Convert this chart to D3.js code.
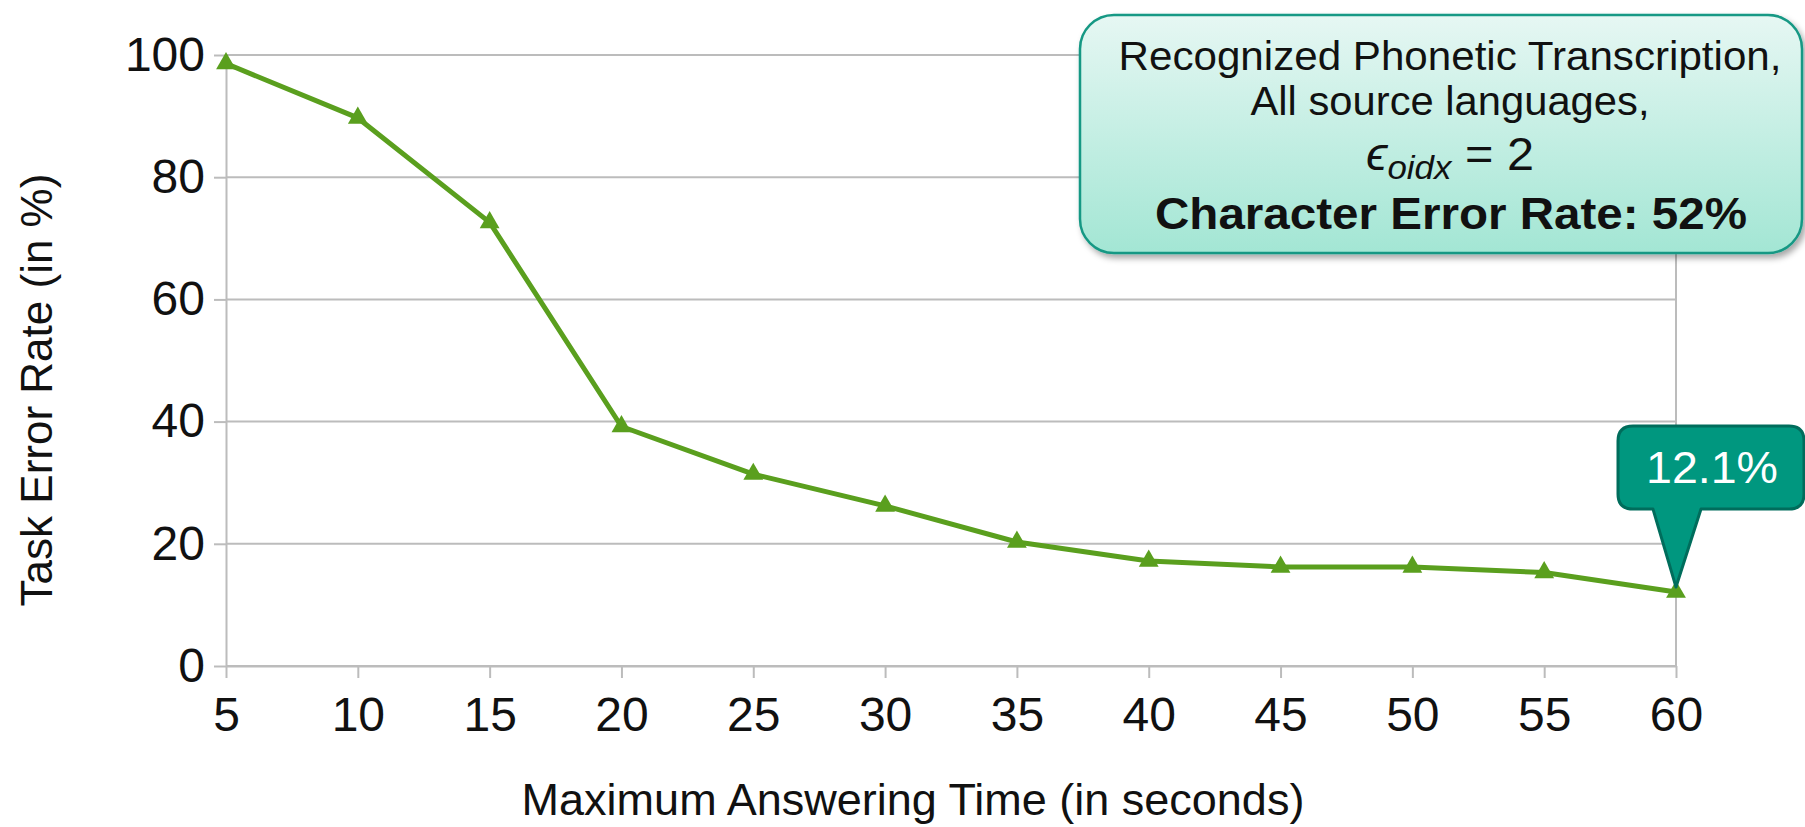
<!DOCTYPE html>
<html>
<head>
<meta charset="utf-8">
<script src="https://cdn.jsdelivr.net/npm/d3@7"></script>
<style>
  html, body { margin: 0; padding: 0; background: #ffffff; }
  svg { display: block; }
  text { font-family: "Liberation Sans", Arial, sans-serif; }
</style>
</head>
<body>
<svg id="chart" width="1805" height="827"></svg>
<script>
// Maximum answering time (s) and the resulting task error rate (%)
const answerTimes = [5, 10, 15, 20, 25, 30, 35, 40, 45, 50, 55, 60];
const taskErrorRates = [98.6, 89.7, 72.6, 39.2, 31.4, 26.2, 20.3, 17.2, 16.2, 16.2, 15.3, 12.1];
const yTickValues = [0, 20, 40, 60, 80, 100];
const xTickValues = answerTimes;

const xTitle = "Maximum Answering Time (in seconds)";
const yTitle = "Task Error Rate (in %)";
const infoLines = ["Recognized Phonetic Transcription,", "All source languages,"];
const cerLine = "Character Error Rate: 52%";

const svg = d3.select("#chart");
const W = 1805, H = 827;
svg.append("rect").attr("width", W).attr("height", H).attr("fill", "#ffffff");

const x = d3.scaleLinear().domain([5, 60]).range([226, 1676]);
const y = d3.scaleLinear().domain([0, 100]).range([666, 55]);

const gridColor = "#bcbcbc";
const lineColor = "#5a9f1e";

// horizontal gridlines
svg.append("g")
  .selectAll("line")
  .data(yTickValues)
  .join("line")
  .attr("x1", x(5)).attr("x2", x(60))
  .attr("y1", d => y(d)).attr("y2", d => y(d))
  .attr("stroke", gridColor).attr("stroke-width", 2);

// right-hand frame line
svg.append("line")
  .attr("x1", x(60)).attr("x2", x(60))
  .attr("y1", y(100)).attr("y2", y(0))
  .attr("stroke", gridColor).attr("stroke-width", 2);

// y axis
const yAxis = svg.append("g")
  .attr("transform", `translate(${x(5)},0)`)
  .call(d3.axisLeft(y).tickValues(yTickValues).tickSize(12).tickSizeOuter(0).tickPadding(9));
yAxis.select(".domain").attr("stroke", gridColor).attr("stroke-width", 2);
yAxis.selectAll(".tick line").attr("stroke", gridColor).attr("stroke-width", 2);
yAxis.selectAll(".tick text")
  .attr("fill", "#111").attr("font-size", 48)
  .attr("font-family", "'Liberation Sans', Arial, sans-serif");

// x axis
const xAxis = svg.append("g")
  .attr("transform", `translate(0,${y(0)})`)
  .call(d3.axisBottom(x).tickValues(xTickValues).tickFormat(d3.format("d")).tickSize(12).tickSizeOuter(0).tickPadding(19));
xAxis.select(".domain").attr("stroke", gridColor).attr("stroke-width", 2);
xAxis.selectAll(".tick line").attr("stroke", gridColor).attr("stroke-width", 2);
xAxis.selectAll(".tick text")
  .attr("fill", "#111").attr("font-size", 48)
  .attr("font-family", "'Liberation Sans', Arial, sans-serif");

// axis titles
svg.append("text")
  .attr("x", 913).attr("y", 815)
  .attr("text-anchor", "middle")
  .attr("font-size", 45).attr("fill", "#111")
  .text(xTitle);

svg.append("text")
  .attr("transform", "translate(52,390) rotate(-90)")
  .attr("text-anchor", "middle")
  .attr("font-size", 44).attr("fill", "#111")
  .text(yTitle);

// series line and markers
const pts = answerTimes.map((t, i) => [t, taskErrorRates[i]]);
svg.append("path")
  .datum(pts)
  .attr("fill", "none")
  .attr("stroke", lineColor)
  .attr("stroke-width", 5)
  .attr("stroke-linejoin", "round")
  .attr("d", d3.line().x(d => x(d[0])).y(d => y(d[1])));

svg.append("g")
  .selectAll("path")
  .data(pts)
  .join("path")
  .attr("transform", d => `translate(${x(d[0])},${y(d[1])})`)
  .attr("d", d3.symbol().type(d3.symbolTriangle).size(170))
  .attr("fill", lineColor);

// value callout for the last point
const last = pts[pts.length - 1];
const tipX = x(last[0]), tipY = y(last[1]) - 5;
const bx0 = tipX - 58, bx1 = tipX + 128, by0 = tipY - 161, by1 = tipY - 78, r = 15;
const pl = tipX - 23, pr = tipX + 25;
const calloutPath = [
  `M${bx0 + r},${by0}`,
  `L${bx1 - r},${by0}`, `Q${bx1},${by0} ${bx1},${by0 + r}`,
  `L${bx1},${by1 - r}`, `Q${bx1},${by1} ${bx1 - r},${by1}`,
  `L${pr},${by1}`, `L${tipX},${tipY}`, `L${pl},${by1}`,
  `L${bx0 + r},${by1}`, `Q${bx0},${by1} ${bx0},${by1 - r}`,
  `L${bx0},${by0 + r}`, `Q${bx0},${by0} ${bx0 + r},${by0}`, "Z"
].join(" ");
svg.append("path")
  .attr("d", calloutPath)
  .attr("fill", "#00977f")
  .attr("stroke", "#006d5c")
  .attr("stroke-width", 3)
  .attr("stroke-linejoin", "round");
svg.append("text")
  .attr("x", (bx0 + bx1) / 2 + 1).attr("y", by0 + 57)
  .attr("text-anchor", "middle")
  .attr("font-size", 44).attr("fill", "#ffffff")
  .attr("textLength", 132).attr("lengthAdjust", "spacingAndGlyphs")
  .text(`${last[1]}%`);

// info box
const defs = svg.append("defs");
const grad = defs.append("linearGradient").attr("id", "boxFill")
  .attr("x1", 0).attr("y1", 0).attr("x2", 0).attr("y2", 1);
grad.append("stop").attr("offset", "0%").attr("stop-color", "#e6f7f3");
grad.append("stop").attr("offset", "100%").attr("stop-color", "#a3e6d4");
const shadow = defs.append("filter").attr("id", "boxShadow")
  .attr("x", "-10%").attr("y", "-10%").attr("width", "130%").attr("height", "140%");
shadow.append("feDropShadow")
  .attr("dx", 3).attr("dy", 4).attr("stdDeviation", 3)
  .attr("flood-color", "#000").attr("flood-opacity", 0.35);

svg.append("rect")
  .attr("x", 1080).attr("y", 15).attr("width", 722).attr("height", 238)
  .attr("rx", 34).attr("ry", 34)
  .attr("fill", "url(#boxFill)")
  .attr("stroke", "#169884").attr("stroke-width", 2.5)
  .attr("filter", "url(#boxShadow)");

const cx = 1450;
svg.append("text")
  .attr("x", cx).attr("y", 70)
  .attr("text-anchor", "middle").attr("font-size", 41).attr("fill", "#111")
  .attr("textLength", 663).attr("lengthAdjust", "spacingAndGlyphs")
  .text(infoLines[0]);
svg.append("text")
  .attr("x", cx).attr("y", 115)
  .attr("text-anchor", "middle").attr("font-size", 41).attr("fill", "#111")
  .attr("textLength", 399).attr("lengthAdjust", "spacingAndGlyphs")
  .text(infoLines[1]);

// ϵ_oidx = 2
const math = svg.append("text")
  .attr("x", cx).attr("y", 170)
  .attr("text-anchor", "middle").attr("fill", "#111")
  .attr("font-family", "'Liberation Serif', 'DejaVu Serif', serif")
  .attr("textLength", 168).attr("lengthAdjust", "spacingAndGlyphs");
math.append("tspan").attr("font-size", 46).attr("font-style", "italic").text("ϵ");
math.append("tspan").attr("font-size", 33).attr("font-style", "italic").attr("dy", 9).text("oidx");
math.append("tspan").attr("font-size", 46).attr("dy", -9).text(" = 2");

svg.append("text")
  .attr("x", cx + 1).attr("y", 229)
  .attr("text-anchor", "middle").attr("font-size", 45).attr("font-weight", "bold").attr("fill", "#111")
  .attr("textLength", 592).attr("lengthAdjust", "spacingAndGlyphs")
  .text(cerLine);
</script>
</body>
</html>
